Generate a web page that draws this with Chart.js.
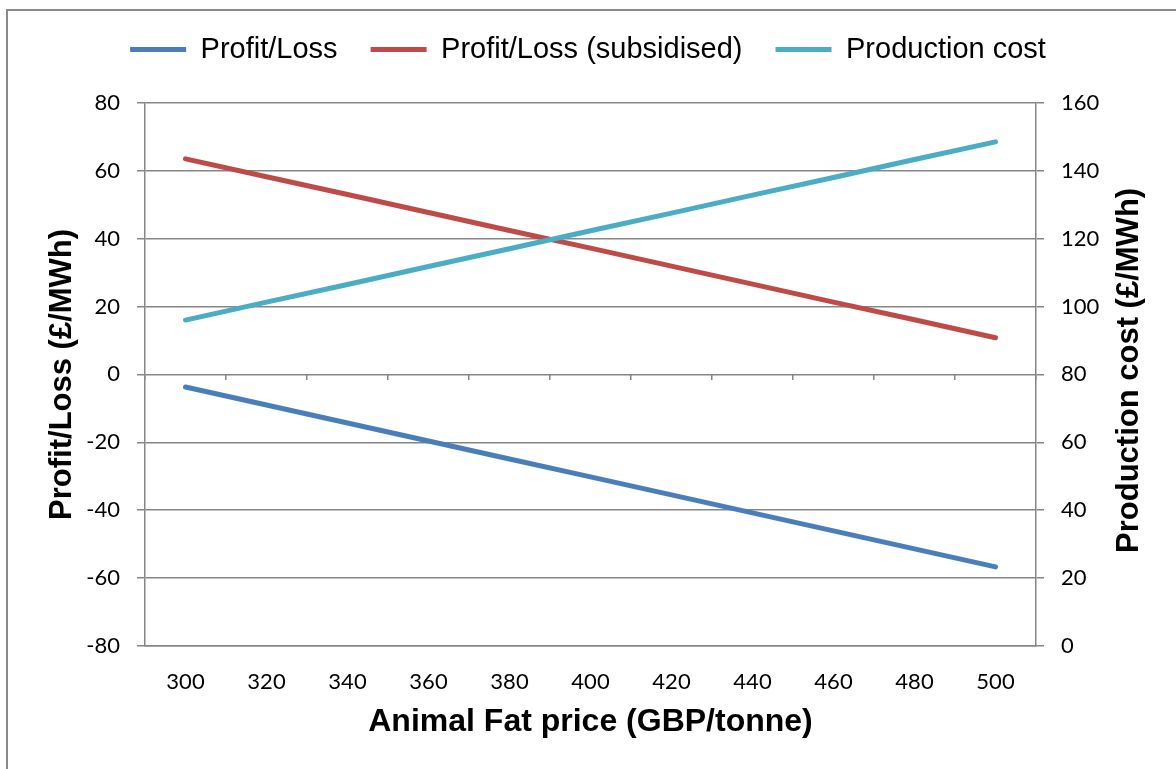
<!DOCTYPE html>
<html>
<head>
<meta charset="utf-8">
<title>Animal Fat price vs Profit/Loss</title>
<script src="https://cdn.jsdelivr.net/npm/chart.js@4/dist/chart.umd.min.js"></script>
<style>
  html, body { margin: 0; padding: 0; background: #fff; overflow: hidden; }
  #wrap { position: relative; width: 1176px; height: 769px; }
  #frame { position: absolute; left: 6px; top: 9px; width: 1400px; height: 1000px;
           border-left: 2px solid #8a8a8a; border-top: 2px solid #8a8a8a;
           box-sizing: border-box; pointer-events: none; }
  canvas { position: absolute; left: 0; top: 0; }
</style>
</head>
<body>
<div id="wrap">
  <div id="frame"></div>
  <canvas id="chart" width="1176" height="769"></canvas>
</div>
<script>
// Animal fat price categories (GBP/tonne)
const fatPrices = ['300', '320', '340', '360', '380', '400', '420', '440', '460', '480', '500'];

// Profit/Loss (£/MWh), left axis
const profitLoss = [-3.7, -9.0, -14.3, -19.6, -24.9, -30.2, -35.5, -40.8, -46.1, -51.4, -56.7];

// Profit/Loss with subsidy (£/MWh), left axis
const profitLossSubsidised = [63.5, 58.2, 53.0, 47.7, 42.4, 37.2, 31.9, 26.6, 21.3, 16.1, 10.8];

// Production cost (£/MWh), right axis
const productionCost = [96.0, 101.3, 106.5, 111.8, 117.0, 122.3, 127.5, 132.8, 138.0, 143.3, 148.5];

// Axis ranges
const leftAxisRange = { min: -80, max: 80, step: 20 };
const rightAxisRange = { min: 0, max: 160, step: 20 };

const xAxisTitle = 'Animal Fat price (GBP/tonne)';
const leftAxisTitle = 'Profit/Loss (£/MWh)';
const rightAxisTitle = 'Production cost (£/MWh)';

const GRID = '#868686';
const tickFont = { family: 'Lato, "Open Sans", sans-serif', size: 22 };
const titleFont = { family: '"Liberation Sans", Arial, sans-serif', size: 31, weight: 'bold' };

const lineStyle = (color) => ({
  borderColor: color,
  backgroundColor: color,
  borderWidth: 5,
  borderCapStyle: 'round',
  borderJoinStyle: 'round',
  pointRadius: 0,
  pointHoverRadius: 0,
  tension: 0,
  fill: false,
  pointStyle: 'line'
});

// Right-hand axis title, reading bottom-to-top like the left one
const rightTitlePlugin = {
  id: 'rightTitle',
  afterDraw(chart) {
    const s = chart.scales.y1;
    const area = chart.chartArea;
    const ctx = chart.ctx;
    ctx.save();
    ctx.translate(s.right - 47, (area.top + area.bottom) / 2 - 4);
    ctx.rotate(-Math.PI / 2);
    ctx.font = 'bold ' + titleFont.size + 'px ' + titleFont.family;
    ctx.textAlign = 'center';
    ctx.textBaseline = 'middle';
    ctx.fillStyle = '#000';
    ctx.fillText(rightAxisTitle, 0, 0);
    ctx.restore();
  }
};

new Chart(document.getElementById('chart'), {
  type: 'line',
  data: {
    labels: fatPrices,
    datasets: [
      Object.assign({ label: 'Profit/Loss', data: profitLoss, yAxisID: 'y', order: 2 }, lineStyle('#4A7EBB')),
      Object.assign({ label: 'Profit/Loss (subsidised)', data: profitLossSubsidised, yAxisID: 'y', order: 1 }, lineStyle('#BE4B48')),
      Object.assign({ label: 'Production cost', data: productionCost, yAxisID: 'y1', order: 0 }, lineStyle('#4BACC6'))
    ]
  },
  plugins: [rightTitlePlugin],
  options: {
    responsive: false,
    animation: false,
    events: [],
    layout: { padding: { top: 2, left: 0, right: 0, bottom: 0 } },
    plugins: {
      tooltip: { enabled: false },
      legend: {
        position: 'top',
        labels: {
          usePointStyle: true,
          pointStyleWidth: 56,
          padding: 33,
          color: '#000',
          font: { family: '"Liberation Sans", Arial, sans-serif', size: 29 },
          sort: (a, b) => a.datasetIndex - b.datasetIndex
        }
      },
      // empty spacer between legend and plot
      subtitle: {
        display: true,
        text: '',
        position: 'top',
        weight: 500,
        font: { size: 24 },
        padding: 0
      }
    },
    scales: {
      x: {
        type: 'category',
        offset: true,
        grid: { display: false },
        border: { display: true, color: GRID, width: 1.5 },
        ticks: { color: '#000', font: tickFont, padding: 15, maxRotation: 0, autoSkip: false },
        title: {
          display: true,
          text: xAxisTitle,
          color: '#000',
          font: Object.assign({}, titleFont, { size: 32 }),
          padding: { top: 9, bottom: 28 }
        },
        afterFit: (s) => { s.height = 123; }
      },
      // tick marks along the zero line, between categories
      xZero: {
        axis: 'x',
        type: 'category',
        position: { y: 0 },
        offset: true,
        grid: { offset: true, drawOnChartArea: false, drawTicks: true, tickLength: 6, color: GRID, lineWidth: 1.5 },
        border: { display: false },
        ticks: { display: false }
      },
      y: {
        position: 'left',
        min: leftAxisRange.min,
        max: leftAxisRange.max,
        ticks: { stepSize: leftAxisRange.step, color: '#000', font: tickFont, padding: 17 },
        grid: { color: GRID, lineWidth: 1.5, tickLength: 8 },
        border: { display: true, color: GRID, width: 1.5 },
        title: {
          display: true,
          text: leftAxisTitle,
          color: '#000',
          font: titleFont,
          padding: { top: 44, bottom: 0 }
        },
        afterFit: (s) => { s.width = 145; }
      },
      y1: {
        position: 'right',
        min: rightAxisRange.min,
        max: rightAxisRange.max,
        ticks: { stepSize: rightAxisRange.step, color: '#000', font: tickFont, padding: 17 },
        grid: { drawOnChartArea: false, color: GRID, lineWidth: 1.5, tickLength: 8 },
        border: { display: true, color: GRID, width: 1.5 },
        title: { display: false },
        afterFit: (s) => { s.width = 140; }
      }
    }
  }
});
</script>
</body>
</html>
